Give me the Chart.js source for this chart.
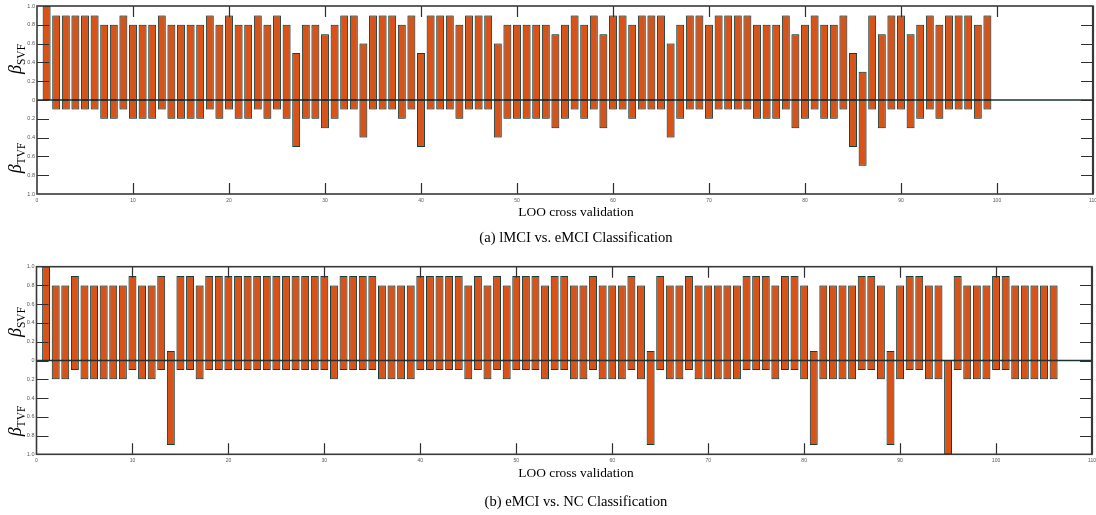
<!DOCTYPE html>
<html><head><meta charset="utf-8">
<script src="https://cdn.jsdelivr.net/npm/chart.js@4.4.0/dist/chart.umd.min.js"></script>
<style>
html,body{margin:0;padding:0;background:#fff;}
body{width:1096px;height:515px;position:relative;overflow:hidden;font-family:"Liberation Serif","Times New Roman",serif;}
canvas{position:absolute;left:0;}
.t{position:absolute;white-space:nowrap;transform:translate(-50%,-50%);color:#000;line-height:1;}
.xt{font-size:13.4px;}
.cap{font-size:14.6px;}
.beta{position:absolute;white-space:nowrap;transform:translate(-50%,-50%) rotate(-90deg);font-size:18px;line-height:1;color:#000;}
.beta i{font-style:italic;}
.beta span{font-size:11.5px;position:relative;top:4px;}
</style></head>
<body>
<canvas id="ca" style="top:0" width="1096" height="206"></canvas>
<canvas id="cb" style="top:260px" width="1096" height="206"></canvas>
<div class="t xt" style="left:576px;top:212px">LOO cross validation</div>
<div class="t cap" style="left:576px;top:237px">(a) lMCI vs. eMCI Classification</div>
<div class="t xt" style="left:576px;top:473px">LOO cross validation</div>
<div class="t cap" style="left:576px;top:501px">(b) eMCI vs. NC Classification</div>
<div class="beta" style="left:15px;top:59px"><i>β</i><span>SVF</span></div>
<div class="beta" style="left:15px;top:158px"><i>β</i><span>TVF</span></div>
<div class="beta" style="left:15px;top:322px"><i>β</i><span>SVF</span></div>
<div class="beta" style="left:15px;top:421px"><i>β</i><span>TVF</span></div>
<script>
// (a) lMCI vs. eMCI — LOO folds 1..99
const svfA = [1.0,0.9,0.9,0.9,0.9,0.9,0.8,0.8,0.9,0.8,0.8,0.8,0.9,0.8,0.8,0.8,0.8,0.9,0.8,0.9,0.8,0.8,0.9,0.8,0.9,
  0.8,0.5,0.8,0.8,0.7,0.8,0.9,0.9,0.6,0.9,0.9,0.9,0.8,0.9,0.5,0.9,0.9,0.9,0.8,0.9,0.9,0.9,0.6,0.8,0.8,0.8,0.8,0.8,
  0.7,0.8,0.9,0.8,0.9,0.7,0.9,0.9,0.8,0.9,0.9,0.9,0.6,0.8,0.9,0.9,0.8,0.9,0.9,0.9,0.9,0.8,0.8,0.8,0.9,0.7,0.8,0.9,
  0.8,0.8,0.9,0.5,0.3,0.9,0.7,0.9,0.9,0.7,0.8,0.9,0.8,0.9,0.9,0.9,0.8,0.9];
const tvfA = [0,0.1,0.1,0.1,0.1,0.1,0.2,0.2,0.1,0.2,0.2,0.2,0.1,0.2,0.2,0.2,0.2,0.1,0.2,0.1,0.2,0.2,0.1,0.2,0.1,
  0.2,0.5,0.2,0.2,0.3,0.2,0.1,0.1,0.4,0.1,0.1,0.1,0.2,0.1,0.5,0.1,0.1,0.1,0.2,0.1,0.1,0.1,0.4,0.2,0.2,0.2,0.2,0.2,
  0.3,0.2,0.1,0.2,0.1,0.3,0.1,0.1,0.2,0.1,0.1,0.1,0.4,0.2,0.1,0.1,0.2,0.1,0.1,0.1,0.1,0.2,0.2,0.2,0.1,0.3,0.2,0.1,
  0.2,0.2,0.1,0.5,0.7,0.1,0.3,0.1,0.1,0.3,0.2,0.1,0.2,0.1,0.1,0.1,0.2,0.1];
// (b) eMCI vs. NC — LOO folds 1..106
const svfB = [1.0,0.8,0.8,0.9,0.8,0.8,0.8,0.8,0.8,0.9,0.8,0.8,0.9,0.1,0.9,0.9,0.8,0.9,0.9,0.9,0.9,0.9,0.9,0.9,0.9,
  0.9,0.9,0.9,0.9,0.9,0.8,0.9,0.9,0.9,0.9,0.8,0.8,0.8,0.8,0.9,0.9,0.9,0.9,0.9,0.8,0.9,0.8,0.9,0.8,0.9,0.9,0.9,0.8,
  0.9,0.9,0.8,0.8,0.9,0.8,0.8,0.8,0.9,0.8,0.1,0.9,0.8,0.8,0.9,0.8,0.8,0.8,0.8,0.8,0.9,0.9,0.9,0.8,0.9,0.9,0.8,0.1,
  0.8,0.8,0.8,0.8,0.9,0.9,0.8,0.1,0.8,0.9,0.9,0.8,0.8,0.0,0.9,0.8,0.8,0.8,0.9,0.9,0.8,0.8,0.8,0.8,0.8];
const tvfB = [0,0.2,0.2,0.1,0.2,0.2,0.2,0.2,0.2,0.1,0.2,0.2,0.1,0.9,0.1,0.1,0.2,0.1,0.1,0.1,0.1,0.1,0.1,0.1,0.1,
  0.1,0.1,0.1,0.1,0.1,0.2,0.1,0.1,0.1,0.1,0.2,0.2,0.2,0.2,0.1,0.1,0.1,0.1,0.1,0.2,0.1,0.2,0.1,0.2,0.1,0.1,0.1,0.2,
  0.1,0.1,0.2,0.2,0.1,0.2,0.2,0.2,0.1,0.2,0.9,0.1,0.2,0.2,0.1,0.2,0.2,0.2,0.2,0.2,0.1,0.1,0.1,0.2,0.1,0.1,0.2,0.9,
  0.2,0.2,0.2,0.2,0.1,0.1,0.2,0.9,0.2,0.1,0.1,0.2,0.2,1.0,0.1,0.2,0.2,0.2,0.1,0.1,0.2,0.2,0.2,0.2,0.2];
const xTicks = {min: 0, max: 110, step: 10};
const yTicks = {min: -1, max: 1, step: 0.2};

const BAR_FILL = '#d95319';
const BAR_EDGE = '#0f3937';

const framePlugin = {
  id: 'frame',
  beforeDatasetsDraw(chart) {
    const ctx = chart.ctx;
    ctx.save();
    ctx.shadowColor = 'rgba(80,120,118,0.6)';
    ctx.shadowBlur = 1.2;
  },
  afterDatasetsDraw(chart) {
    const ctx = chart.ctx;
    ctx.restore();
    const a = chart.chartArea, xs = chart.scales.x, ys = chart.scales.y;
    ctx.save();
    // zero line
    const y0 = ys.getPixelForValue(0);
    ctx.strokeStyle = '#1d3232';
    ctx.lineWidth = 1.3;
    ctx.beginPath(); ctx.moveTo(a.left, y0); ctx.lineTo(a.right, y0); ctx.stroke();
    // inward ticks
    ctx.strokeStyle = '#2e2e2e';
    ctx.lineWidth = 1.2;
    ys.ticks.forEach(t => {
      if (Math.abs(t.value) > 0.99) return;
      const p = Math.round(ys.getPixelForValue(t.value)) + 0.5;
      ctx.beginPath();
      ctx.moveTo(a.left, p); ctx.lineTo(a.left + 12, p);
      ctx.moveTo(a.right, p); ctx.lineTo(a.right - 12, p);
      ctx.stroke();
    });
    xs.ticks.forEach(t => {
      if (t.value <= xTicks.min || t.value >= xTicks.max) return;
      const p = Math.round(xs.getPixelForValue(t.value)) + 0.5;
      ctx.beginPath();
      ctx.moveTo(p, a.bottom); ctx.lineTo(p, a.bottom - 11);
      ctx.moveTo(p, a.top); ctx.lineTo(p, a.top + 11);
      ctx.stroke();
    });
    // frame
    ctx.strokeStyle = '#383838';
    ctx.lineWidth = 1.6;
    ctx.strokeRect(a.left, a.top, a.right - a.left, a.bottom - a.top);
    ctx.lineWidth = 2.2;
    ctx.beginPath(); ctx.moveTo(a.right, a.top); ctx.lineTo(a.right, a.bottom); ctx.stroke();
    ctx.restore();
  }
};

function makeChart(id, svf, tvf, padTop, padRight, axisW, xAxisH) {
  const folds = svf.map((_, i) => i + 1);
  const ds = (vals, sign) => ({
    data: folds.map((f, i) => ({x: f, y: sign * vals[i]})),
    backgroundColor: BAR_FILL,
    borderColor: BAR_EDGE,
    borderWidth: 1,
    borderSkipped: false,
    grouped: false,
    categoryPercentage: 1,
    barPercentage: 0.82
  });
  return new Chart(document.getElementById(id), {
    type: 'bar',
    data: {datasets: [ds(svf, 1), ds(tvf, -1)]},
    options: {
      responsive: false,
      animation: false,
      events: [],
      layout: {padding: {top: padTop, right: padRight, left: 0, bottom: 0}},
      plugins: {legend: {display: false}, tooltip: {enabled: false}},
      scales: {
        x: {
          type: 'linear', offset: false,
          min: xTicks.min, max: xTicks.max,
          grid: {display: false, drawTicks: false, offset: false},
          border: {display: false},
          ticks: {stepSize: xTicks.step, autoSkip: false, maxRotation: 0, padding: 3.5,
                  color: '#555', font: {family: 'Liberation Sans', size: 5}},
          afterFit(s) { s.height = xAxisH; s.paddingLeft = 0; s.paddingRight = 0; }
        },
        y: {
          type: 'linear', min: yTicks.min, max: yTicks.max,
          grid: {display: false, drawTicks: false},
          border: {display: false},
          ticks: {stepSize: yTicks.step, autoSkip: false, padding: 2,
                  color: '#555', font: {family: 'Liberation Sans', size: 5.5},
                  callback: v => Math.abs(v) < 1e-9 ? '0' : Math.abs(v).toFixed(1)},
          afterFit(s) { s.width = axisW; s.paddingTop = 0; s.paddingBottom = 0; }
        }
      }
    },
    plugins: [framePlugin]
  });
}

makeChart('ca', svfA, tvfA, 6, 3, 37, 12);
makeChart('cb', svfB, tvfB, 6.7, 4, 36.5, 11.7);
</script>
</body></html>
